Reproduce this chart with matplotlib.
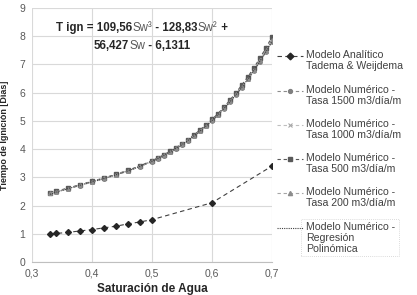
import matplotlib
matplotlib.use("Agg")
import matplotlib.pyplot as plt
from matplotlib.lines import Line2D
from matplotlib.patches import Rectangle
from matplotlib.offsetbox import TextArea, HPacker, VPacker, AnnotationBbox

plt.rcParams['font.family'] = ['Liberation Sans', 'DejaVu Sans']

# Modelo analitico (Tadema & Weijdema)
sw_analitico = [0.33, 0.34, 0.36, 0.38, 0.40, 0.42, 0.44, 0.46, 0.48, 0.50, 0.60, 0.70]
t_analitico = [0.99, 1.01, 1.05, 1.10, 1.15, 1.21, 1.27, 1.35, 1.42, 1.50, 2.10, 3.40]

# Modelos numericos
sw_numerico = [0.33, 0.34, 0.36, 0.38, 0.40, 0.42, 0.44, 0.46, 0.48, 0.50,
               0.51, 0.52, 0.53, 0.54, 0.55, 0.56, 0.57, 0.58, 0.59, 0.60,
               0.61, 0.62, 0.63, 0.64, 0.65, 0.66, 0.67, 0.68, 0.69, 0.70]
t_1500 = [2.43, 2.49, 2.59, 2.71, 2.83, 2.95, 3.08, 3.22, 3.38, 3.56,
          3.66, 3.77, 3.89, 4.02, 4.15, 4.30, 4.46, 4.63, 4.81, 5.00,
          5.20, 5.42, 5.66, 5.91, 6.18, 6.47, 6.78, 7.10, 7.44, 7.80]
t_1000 = [2.45, 2.50, 2.61, 2.73, 2.85, 2.97, 3.10, 3.24, 3.40, 3.58,
          3.68, 3.79, 3.91, 4.04, 4.18, 4.33, 4.49, 4.66, 4.84, 5.03,
          5.24, 5.47, 5.71, 5.97, 6.24, 6.53, 6.85, 7.18, 7.53, 7.90]
t_500 = [2.46, 2.51, 2.62, 2.74, 2.86, 2.98, 3.11, 3.25, 3.41, 3.59,
         3.69, 3.80, 3.92, 4.05, 4.19, 4.34, 4.50, 4.68, 4.86, 5.05,
         5.26, 5.49, 5.74, 6.00, 6.28, 6.57, 6.89, 7.23, 7.59, 7.98]
t_200 = [2.44, 2.49, 2.60, 2.72, 2.84, 2.96, 3.09, 3.23, 3.39, 3.57,
         3.67, 3.78, 3.90, 4.03, 4.17, 4.32, 4.48, 4.65, 4.83, 5.02,
         5.22, 5.45, 5.69, 5.94, 6.21, 6.50, 6.81, 7.14, 7.49, 7.86]
t_regresion = [2.40, 2.47, 2.60, 2.72, 2.84, 2.96, 3.09, 3.23, 3.39, 3.57,
               3.67, 3.78, 3.90, 4.03, 4.16, 4.31, 4.47, 4.64, 4.82, 5.01,
               5.22, 5.44, 5.68, 5.93, 6.20, 6.49, 6.80, 7.12, 7.46, 7.82]

x_ticks = [0.3, 0.4, 0.5, 0.6, 0.7]
y_ticks = [0, 1, 2, 3, 4, 5, 6, 7, 8, 9]

series = [
    (sw_analitico, t_analitico, "Modelo Analítico\nTadema & Weijdema",
     dict(color="#404040", ls=(0, (4, 3)), marker="D", ms=3.0, mfc="#262626", mec="#262626")),
    (sw_numerico, t_1500, "Modelo Numérico -\nTasa 1500 m3/día/m",
     dict(color="#8c8c8c", ls=(0, (3, 2.5)), marker="o", ms=2.4, mfc="#7f7f7f", mec="#7f7f7f")),
    (sw_numerico, t_1000, "Modelo Numérico -\nTasa 1000 m3/día/m",
     dict(color="#bfbfbf", ls=(0, (3, 2.5)), marker="x", ms=2.8, mfc="#a6a6a6", mec="#a6a6a6", mew=0.8)),
    (sw_numerico, t_500, "Modelo Numérico -\nTasa 500 m3/día/m",
     dict(color="#595959", ls=(0, (3, 2.5)), marker="s", ms=2.4, mfc="#595959", mec="#595959")),
    (sw_numerico, t_200, "Modelo Numérico -\nTasa 200 m3/día/m",
     dict(color="#a6a6a6", ls=(0, (3, 2.5)), marker="^", ms=2.6, mfc="#8c8c8c", mec="#8c8c8c")),
    (sw_numerico, t_regresion, "Modelo Numérico -\nRegresión\nPolinómica",
     dict(color="#404040", ls=(0, (1, 1)), marker=None)),
]

W, H = 417, 295
fig = plt.figure(figsize=(W / 100, H / 100), dpi=100)
ax = fig.add_axes([32 / W, 1 - 262 / H, 240 / W, 254 / H])

for x, y, lab, st in series:
    ax.plot(x, y, lw=0.8, **st)

ax.set_xlim(0.3, 0.7)
ax.set_ylim(0, 9)
ax.set_xticks(x_ticks)
ax.set_xticklabels([f"{v:.1f}".replace(".", ",") for v in x_ticks])
ax.set_yticks(y_ticks)
ax.tick_params(length=0, labelsize=7.5, colors="#595959", pad=5)
ax.grid(True, color="#d9d9d9", lw=0.8)
ax.set_axisbelow(True)
for s in ["top", "right", "left"]:
    ax.spines[s].set_visible(False)
ax.spines["bottom"].set_color("#bfbfbf")
ax.spines["bottom"].set_linewidth(0.8)

ax.set_xlabel("Saturación de Agua", fontsize=8.5, fontweight="bold", color="#262626", labelpad=3)
ax.set_ylabel("Tiempo de Ignición [Días]", fontsize=6.5, fontweight="bold", color="#262626", labelpad=7)

# Ecuacion de regresion
bold = dict(fontsize=8.3, fontweight="bold", color="#262626")
norm = dict(fontsize=8.3, color="#595959")
line1 = HPacker(children=[TextArea("T ign = 109,56", textprops=bold),
                          TextArea("Sw³", textprops=norm),
                          TextArea(" - 128,83", textprops=bold),
                          TextArea("Sw²", textprops=norm),
                          TextArea(" +", textprops=bold)], pad=0, sep=0, align="baseline")
line2 = HPacker(children=[TextArea("56,427", textprops=bold),
                          TextArea("Sw", textprops=norm),
                          TextArea(" - 6,1311", textprops=bold)], pad=0, sep=0, align="baseline")
eq = VPacker(children=[line1, line2], pad=0, sep=4, align="center")
ab = AnnotationBbox(eq, (142 / W, 1 - 37 / H), xycoords="figure fraction", frameon=False,
                    box_alignment=(0.5, 0.5))
fig.add_artist(ab)

# Leyenda manual
y_rows = [56, 91, 125, 159, 193, 228]
for (x, y, lab, st), yp in zip(series, y_rows):
    yf = 1 - yp / H
    fig.add_artist(Line2D([277 / W, 303 / W], [yf, yf], transform=fig.transFigure, lw=0.8,
                          color=st["color"], ls=st["ls"]))
    if st.get("marker"):
        fig.add_artist(Line2D([290 / W], [yf], transform=fig.transFigure, lw=0,
                              marker=st["marker"], ms=st["ms"] + 0.4, mfc=st["mfc"], mec=st["mec"],
                              mew=st.get("mew", 1.0)))
    fig.text(306 / W, 1 - (yp - 6) / H, lab, fontsize=7.6, color="#404040",
             va="top", ha="left", linespacing=1.1)

fig.add_artist(Rectangle((301 / W, 1 - 256 / H), 98 / W, 37 / H, transform=fig.transFigure,
                         fill=False, ec="#cfcfcf", lw=0.6, ls=(0, (1, 1.5))))

fig.savefig("out.png", dpi=100)
